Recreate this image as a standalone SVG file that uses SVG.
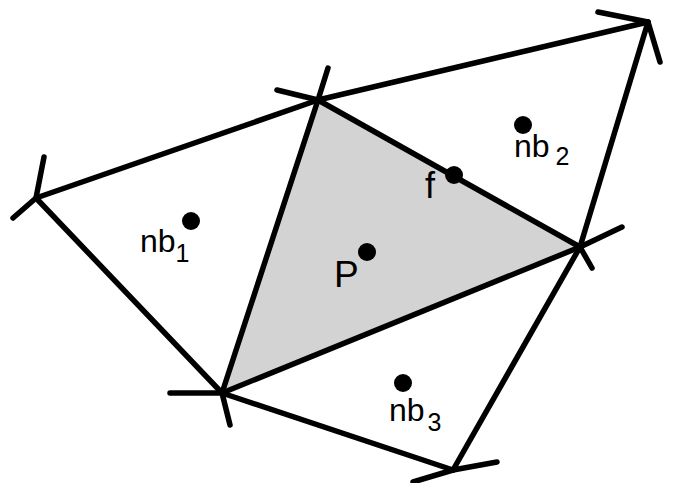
<svg xmlns="http://www.w3.org/2000/svg" width="675" height="483" viewBox="0 0 675 483">
<style>
.e{stroke:#000;stroke-width:5.5;stroke-linecap:round;stroke-linejoin:round;fill:none}
.d{fill:#000}
.t{font-family:"Liberation Sans",Arial,sans-serif;fill:#000}
</style>
<rect width="675" height="483" fill="#fff"/>
<polygon id="cell-P" points="318,100 580,247 222,393" fill="#d3d3d3"/>
<g id="connectors" class="e">
<line x1="36" y1="198" x2="318" y2="100"/>
<line x1="318" y1="100" x2="648" y2="22"/>
<line x1="648" y1="22" x2="580" y2="247"/>
<line x1="580" y1="247" x2="453" y2="470"/>
<line x1="318" y1="100" x2="580" y2="247"/>
<line x1="318" y1="100" x2="222" y2="393"/>
<line x1="222" y1="393" x2="580" y2="247"/>
<line x1="36" y1="198" x2="222" y2="393"/>
<line x1="222" y1="393" x2="453" y2="470"/>
</g>
<g id="vA" class="e"><polyline points="44,157 36,198 13,218"/></g>
<g id="vT" class="e"><polyline points="328,68 318,100 277,90"/></g>
<g id="vR" class="e"><polyline points="598,12 648,22 660,62"/></g>
<g id="vS" class="e"><polyline points="622,227 580,247 592,268"/></g>
<g id="vB" class="e"><polyline points="170,393 222,393 230,425"/></g>
<g id="vD" class="e"><polyline points="413,482 453,470 497,462"/></g>
<g id="nb1"><circle class="d" cx="191" cy="221" r="9"/><text class="t" x="140" y="252" font-size="32">nb<tspan font-size="25" dy="10">1</tspan></text></g>
<g id="P"><circle class="d" cx="367" cy="252" r="9"/><text class="t" x="334" y="287" font-size="37">P</text></g>
<g id="f"><circle class="d" cx="454" cy="175" r="9"/><text class="t" x="425" y="198" font-size="36">f</text></g>
<g id="nb2"><circle class="d" cx="523" cy="125" r="9"/><text class="t" x="514" y="157" font-size="32">nb<tspan font-size="25" dx="6" dy="8">2</tspan></text></g>
<g id="nb3"><circle class="d" cx="403" cy="383" r="9"/><text class="t" x="389" y="421" font-size="32">nb<tspan font-size="25" dx="3" dy="10">3</tspan></text></g>
</svg>
